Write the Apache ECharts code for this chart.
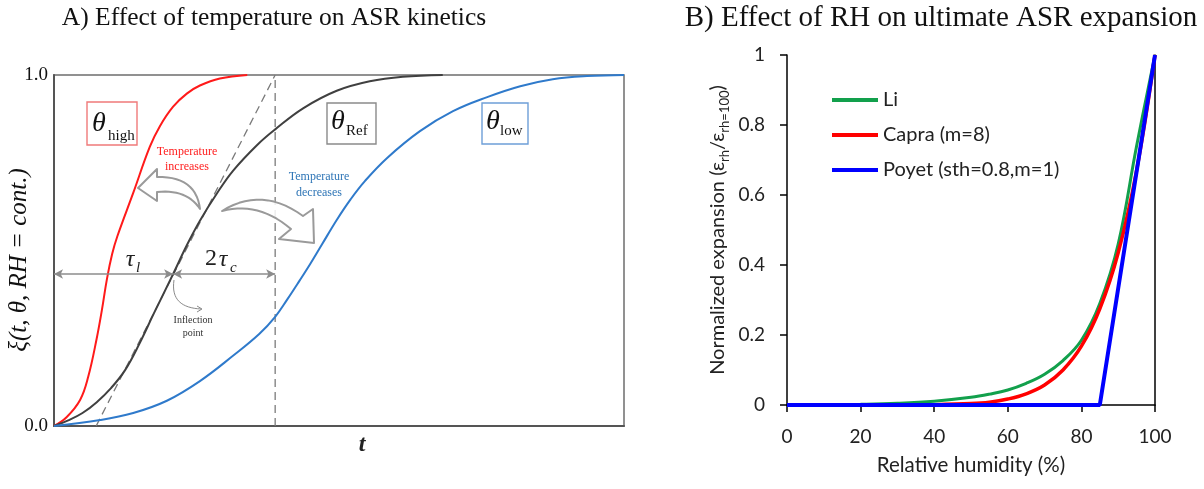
<!DOCTYPE html>
<html>
<head>
<meta charset="utf-8">
<script src="https://cdn.jsdelivr.net/npm/echarts@6/dist/echarts.min.js"></script>
<style>
  html, body { margin: 0; padding: 0; background: #fff; }
  #chart { width: 1204px; height: 489px; }
</style>
</head>
<body>
<div id="chart"></div>
<script>
// ---- Panel A: reaction extent ξ over time for three temperatures ----
const tHigh  = [0, 2.2, 4.6, 6.0, 7.5, 8.4, 9.3, 10.2, 11.1, 13.9, 16.8, 18.6, 20.9, 23.3, 25.6, 29.1, 33.9];
const xiHigh = [0, 0.025, 0.075, 0.14, 0.25, 0.33, 0.42, 0.49, 0.54, 0.664, 0.795, 0.855, 0.91, 0.947, 0.97, 0.99, 1.0];

const tRef  = [0, 2.5, 5, 7.5, 10, 12.5, 15, 17.5, 20.9, 23.3, 25.6, 28.6, 31.4, 35.6, 38.8, 43.7, 49.6, 55.4, 61.2, 68.2];
const xiRef = [0, 0.016, 0.037, 0.068, 0.108, 0.16, 0.235, 0.32, 0.433, 0.515, 0.585, 0.663, 0.727, 0.800, 0.845, 0.905, 0.955, 0.982, 0.995, 1.0];

const tLow  = [0, 8.1, 13.9, 19.8, 25.6, 31.4, 36, 38.8, 40.9, 43, 45, 47, 49.6, 52, 54.5, 58.4, 64.2, 70, 76, 81.8, 87.5, 93.5, 100];
const xiLow = [0, 0.017, 0.037, 0.072, 0.128, 0.2, 0.262, 0.311, 0.36, 0.412, 0.463, 0.517, 0.587, 0.645, 0.697, 0.763, 0.84, 0.897, 0.937, 0.968, 0.988, 0.997, 1.0];

// inflection point of the reference curve, end of 2τc, and tangent foot
const inflT = 20.9, inflXi = 0.433;
const tauEnd = 38.8;
const tangentFoot = 7.4;
const xiTicks = [0, 1];

// ---- Panel B: normalized ultimate expansion vs relative humidity ----
const rhLi  = [0, 10, 20, 30, 40, 50, 55, 60, 65, 70, 75, 80, 85, 90, 95, 100];
const expLi = [0, 0.0005, 0.002, 0.005, 0.011, 0.022, 0.031, 0.043, 0.062, 0.088, 0.127, 0.185, 0.29, 0.46, 0.74, 1];

const rhCapra  = [0, 10, 20, 30, 40, 50, 55, 60, 65, 70, 75, 80, 85, 90, 95, 100];
const expCapra = [0, 0, 0, 0.0001, 0.001, 0.004, 0.008, 0.017, 0.032, 0.057, 0.1, 0.168, 0.275, 0.435, 0.67, 1];

const rhPoyet  = [0, 85, 100];
const expPoyet = [0, 0, 1];

const seriesNames = ['Li', 'Capra (m=8)', 'Poyet (sth=0.8,m=1)'];

const zip = (xs, ys) => xs.map((x, i) => [x, ys[i]]);

const SERIF = '"Liberation Serif", "DejaVu Serif", serif';
const SANS = 'Lato, "Open Sans", sans-serif';

// sample a quadratic Bézier segment into polygon points
function quad(p0, c, p1, n = 14) {
  const pts = [];
  for (let i = 0; i <= n; i++) {
    const s = i / n, u = 1 - s;
    pts.push([u * u * p0[0] + 2 * u * s * c[0] + s * s * p1[0],
              u * u * p0[1] + 2 * u * s * c[1] + s * s * p1[1]]);
  }
  return pts;
}

// hollow curved arrow pointing left (towards the hotter curve)
const arrowUp = [].concat(
  quad([200, 209], [196, 176], [157, 177]),
  [[157, 169], [138, 188], [157, 201], [157, 192]],
  quad([157, 192], [187, 189], [200, 209]).slice(1)
);
// hollow curved arrow pointing right-down (towards the colder curve)
const arrowDown = [].concat(
  quad([222, 211], [262, 186], [303, 216]),
  [[313, 209], [314, 243], [279, 239], [291, 229]],
  quad([291, 229], [258, 201], [222, 211]).slice(1)
);

const chart = echarts.init(document.getElementById('chart'), null, { renderer: 'canvas' });

const curve = (name, data, color) => ({
  name, type: 'line', xAxisIndex: 0, yAxisIndex: 0, data,
  showSymbol: false, smooth: 0.4, silent: true,
  lineStyle: { color, width: 2 }, z: 3
});

const dashed = (data) => ({
  type: 'line', xAxisIndex: 0, yAxisIndex: 0, data,
  showSymbol: false, silent: true,
  lineStyle: { color: '#7a7a7a', width: 1.3, type: [8, 5] }, z: 2
});

const gray = '#8c8c8c';

const option = {
  animation: false,
  backgroundColor: '#fff',
  grid: [
    { left: 54, top: 75, width: 570, height: 351, show: true, borderColor: '#6e6e6e', borderWidth: 1.5, backgroundColor: 'transparent' },
    { left: 787, top: 55, width: 368, height: 350 }
  ],
  xAxis: [
    {
      gridIndex: 0, type: 'value', min: 0, max: 100,
      axisLine: { lineStyle: { color: '#555', width: 2 } },
      axisTick: { show: false }, axisLabel: { show: false }, splitLine: { show: false }
    },
    {
      gridIndex: 1, type: 'value', min: 0, max: 100, interval: 20,
      name: 'Relative humidity (%)', nameLocation: 'middle', nameGap: 50,
      nameTextStyle: { fontFamily: SANS, fontSize: 20.5, color: '#222' },
      axisLine: { lineStyle: { color: '#000', width: 1.5 } },
      axisTick: { show: true, length: 7, lineStyle: { color: '#000', width: 1.5 } },
      axisLabel: { fontFamily: SANS, fontSize: 19, color: '#222', margin: 22 },
      splitLine: { show: false }
    }
  ],
  yAxis: [
    {
      gridIndex: 0, type: 'value', min: xiTicks[0], max: xiTicks[1], interval: 1,
      axisLine: { lineStyle: { color: '#555', width: 2 } },
      axisTick: { show: false },
      axisLabel: { fontFamily: SERIF, fontSize: 19, color: '#111', margin: 6, formatter: v => v.toFixed(1) },
      splitLine: { show: false }
    },
    {
      gridIndex: 1, type: 'value', min: 0, max: 1, interval: 0.2,
      name: '{n|Normalized expansion (ε}{s|rh}{n|/ε}{s|rh=100}{n|)}',
      nameLocation: 'middle', nameGap: 56,
      nameTextStyle: {
        rich: {
          n: { fontFamily: SANS, fontSize: 20, color: '#222', lineHeight: 26 },
          s: { fontFamily: SANS, fontSize: 13, color: '#222', lineHeight: 15, verticalAlign: 'bottom' }
        }
      },
      axisLine: { lineStyle: { color: '#000', width: 1.5 } },
      axisTick: { show: true, length: 7, lineStyle: { color: '#000', width: 1.5 } },
      axisLabel: { fontFamily: SANS, fontSize: 19, color: '#222', margin: 22 },
      splitLine: { show: false }
    },
    {
      gridIndex: 1, type: 'value', min: 0, max: 1, position: 'right',
      axisLine: { show: true, lineStyle: { color: '#000', width: 1.5 } },
      axisTick: { show: false }, axisLabel: { show: false }, splitLine: { show: false }
    }
  ],
  legend: {
    data: seriesNames,
    orient: 'vertical', left: 832, top: 88, padding: 0,
    icon: 'rect', itemWidth: 46, itemHeight: 4, itemGap: 11,
    textStyle: { fontFamily: SANS, fontSize: 20, color: '#222', lineHeight: 24 },
    selectedMode: false
  },
  series: [
    curve('high', zip(tHigh, xiHigh), '#ff1a1a'),
    curve('ref', zip(tRef, xiRef), '#404040'),
    curve('low', zip(tLow, xiLow), '#2f7acb'),
    dashed([[tangentFoot, 0], [tauEnd, 1]]),
    dashed([[tauEnd, 0], [tauEnd, 1]]),
    {
      type: 'line', xAxisIndex: 0, yAxisIndex: 0, data: [], silent: true,
      markLine: {
        silent: true, symbol: ['arrow', 'arrow'], symbolSize: [7, 9],
        label: { show: false },
        lineStyle: { color: gray, width: 1.6, type: 'solid' },
        data: [
          [{ coord: [0, inflXi] }, { coord: [inflT, inflXi] }],
          [{ coord: [inflT, inflXi] }, { coord: [tauEnd, inflXi] }]
        ]
      }
    },
    {
      name: seriesNames[0], type: 'line', xAxisIndex: 1, yAxisIndex: 1,
      data: zip(rhLi, expLi), showSymbol: false, smooth: 0.4,
      color: '#12a04c', lineStyle: { width: 3 }, z: 3
    },
    {
      name: seriesNames[1], type: 'line', xAxisIndex: 1, yAxisIndex: 1,
      data: zip(rhCapra, expCapra), showSymbol: false, smooth: 0.4,
      color: '#ff0000', lineStyle: { width: 3.5 }, z: 4
    },
    {
      name: seriesNames[2], type: 'line', xAxisIndex: 1, yAxisIndex: 1,
      data: zip(rhPoyet, expPoyet), showSymbol: false,
      color: '#0000ff', lineStyle: { width: 4 }, z: 5
    }
  ],
  graphic: [
    // panel titles
    { type: 'text', x: 274, y: 18, style: { text: 'A) Effect of temperature on ASR kinetics', font: '25.5px ' + SERIF, fill: '#111', textAlign: 'center', textVerticalAlign: 'middle' } },
    { type: 'text', x: 941, y: 18, style: { text: 'B) Effect of RH on ultimate ASR expansion', font: '29px ' + SERIF, fill: '#111', textAlign: 'center', textVerticalAlign: 'middle' } },
    // axis labels of panel A
    { type: 'text', x: 362, y: 445, style: { text: 't', font: 'italic bold 24px ' + SERIF, fill: '#222', textAlign: 'center', textVerticalAlign: 'middle' } },
    { type: 'text', x: 19, y: 260, rotation: Math.PI / 2, style: { text: 'ξ(t, θ, RH = cont.)', font: 'italic 25px ' + SERIF, fill: '#111', textAlign: 'center', textVerticalAlign: 'middle' } },

    // temperature labels in boxes
    { type: 'rect', shape: { x: 87, y: 102, width: 50, height: 43 }, style: { fill: '#fff', stroke: '#f07a7a', lineWidth: 1.4 }, z: 10 },
    { type: 'text', x: 99, y: 124, style: { text: 'θ', font: 'italic 28px ' + SERIF, fill: '#111', textAlign: 'center', textVerticalAlign: 'middle' }, z: 11 },
    { type: 'text', x: 108, y: 136, style: { text: 'high', font: '15px ' + SERIF, fill: '#111', textAlign: 'left', textVerticalAlign: 'middle' }, z: 11 },

    { type: 'rect', shape: { x: 327, y: 103, width: 49, height: 41 }, style: { fill: '#fff', stroke: '#8a8a8a', lineWidth: 1.4 }, z: 10 },
    { type: 'text', x: 338, y: 122, style: { text: 'θ', font: 'italic 28px ' + SERIF, fill: '#111', textAlign: 'center', textVerticalAlign: 'middle' }, z: 11 },
    { type: 'text', x: 346, y: 131, style: { text: 'Ref', font: '15px ' + SERIF, fill: '#111', textAlign: 'left', textVerticalAlign: 'middle' }, z: 11 },

    { type: 'rect', shape: { x: 482, y: 103, width: 46, height: 41 }, style: { fill: '#fff', stroke: '#6e9fd8', lineWidth: 1.4 }, z: 10 },
    { type: 'text', x: 493, y: 122, style: { text: 'θ', font: 'italic 28px ' + SERIF, fill: '#111', textAlign: 'center', textVerticalAlign: 'middle' }, z: 11 },
    { type: 'text', x: 500, y: 131, style: { text: 'low', font: '15px ' + SERIF, fill: '#111', textAlign: 'left', textVerticalAlign: 'middle' }, z: 11 },

    // direction captions
    { type: 'text', x: 187, y: 159, style: { text: 'Temperature\nincreases', font: '12px ' + SERIF, lineHeight: 15, fill: '#ff2020', textAlign: 'center', textVerticalAlign: 'middle' }, z: 11 },
    { type: 'text', x: 319, y: 185, style: { text: 'Temperature\ndecreases', font: '12px ' + SERIF, lineHeight: 16, fill: '#2e75b6', textAlign: 'center', textVerticalAlign: 'middle' }, z: 11 },

    // curved block arrows
    { type: 'polygon', shape: { points: arrowUp }, style: { fill: 'rgba(255,255,255,0.85)', stroke: '#9a9a9a', lineWidth: 2, lineJoin: 'round' }, z: 8 },
    { type: 'polygon', shape: { points: arrowDown }, style: { fill: 'rgba(255,255,255,0.85)', stroke: '#9a9a9a', lineWidth: 2, lineJoin: 'round' }, z: 8 },

    // time spans
    { type: 'text', x: 130, y: 260, style: { text: 'τ', font: 'italic 24px ' + SERIF, fill: '#222', textAlign: 'center', textVerticalAlign: 'middle' }, z: 11 },
    { type: 'text', x: 136, y: 268, style: { text: 'l', font: 'italic 15px ' + SERIF, fill: '#222', textAlign: 'left', textVerticalAlign: 'middle' }, z: 11 },
    { type: 'text', x: 211, y: 259, style: { text: '2', font: '24px ' + SERIF, fill: '#222', textAlign: 'center', textVerticalAlign: 'middle' }, z: 11 },
    { type: 'text', x: 223, y: 260, style: { text: 'τ', font: 'italic 24px ' + SERIF, fill: '#222', textAlign: 'center', textVerticalAlign: 'middle' }, z: 11 },
    { type: 'text', x: 230, y: 268, style: { text: 'c', font: 'italic 15px ' + SERIF, fill: '#222', textAlign: 'left', textVerticalAlign: 'middle' }, z: 11 },

    // inflection point pointer
    { type: 'bezierCurve', shape: { x1: 174, y1: 280, cpx1: 171, cpy1: 300, cpx2: 182, cpy2: 308, x2: 201, y2: 309 }, style: { stroke: '#8a8a8a', lineWidth: 1, fill: null }, z: 9 },
    { type: 'polyline', shape: { points: [[197, 306], [202, 309], [197, 312]] }, style: { stroke: '#8a8a8a', lineWidth: 1, fill: null }, z: 9 },
    { type: 'text', x: 193, y: 327, style: { text: 'Inflection\npoint', font: '10px ' + SERIF, lineHeight: 13, fill: '#333', textAlign: 'center', textVerticalAlign: 'middle' }, z: 11 }
  ]
};

chart.setOption(option);
</script>
</body>
</html>
